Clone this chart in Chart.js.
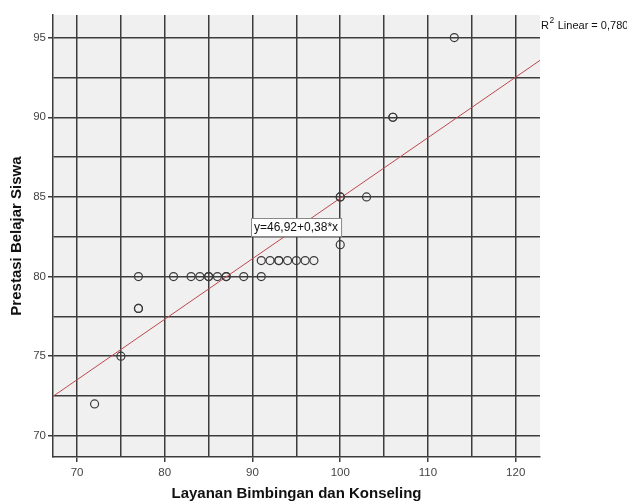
<!DOCTYPE html>
<html>
<head>
<meta charset="utf-8">
<script src="https://cdn.jsdelivr.net/npm/chart.js@4/dist/chart.umd.min.js"></script>
<style>
  html, body { margin: 0; padding: 0; background: #fff; }
  #wrap { width: 627px; height: 504px; }
</style>
</head>
<body>
<div id="wrap"><canvas id="chart" width="627" height="504"></canvas></div>
<script>
// Layanan Bimbingan dan Konseling (x) vs Prestasi Belajar Siswa (y)
const layanan  = [72, 75, 77, 77, 77, 81, 83, 84, 85, 85, 86, 87, 87, 89, 91,
                  91, 92, 93, 93, 94, 95, 96, 97, 100, 100, 100, 103, 106, 106, 113];
const prestasi = [72, 75, 80, 78, 78, 80, 80, 80, 80, 80, 80, 80, 80, 80, 80,
                  81, 81, 81, 81, 81, 81, 81, 81, 82, 85, 85, 85, 90, 90, 95];

// fit line reported by SPSS
const intercept = 46.92;
const slope = 0.38;
const rSquared = "0,780";

const xMin = 67.26, xMax = 122.77;
const yMin = 68.67, yMax = 96.42;
const xTicks = [70, 75, 80, 85, 90, 95, 100, 105, 110, 115, 120];
const yTicks = [70, 72.5, 75, 77.5, 80, 82.5, 85, 87.5, 90, 92.5, 95];

const points = layanan.map((x, i) => ({ x: x, y: prestasi[i] }));
const fitLine = [xMin, xMax].map(x => ({ x: x, y: intercept + slope * x }));

const gridColor = "#3c3c3c";
const fontFamily = "Arial, 'Liberation Sans', sans-serif";

// grey plot background plus the two SPSS labels
const spssPlugin = {
  id: "spss",
  beforeDraw(chart) {
    const { ctx, chartArea: a } = chart;
    ctx.save();
    ctx.fillStyle = "#f0f0f0";
    ctx.fillRect(a.left, a.top, a.right - a.left, a.bottom - a.top);
    ctx.restore();
  },
  afterDraw(chart) {
    const { ctx, chartArea: a } = chart;
    ctx.save();
    // R2 label
    ctx.fillStyle = "#111";
    ctx.textBaseline = "middle";
    ctx.font = "11px " + fontFamily;
    ctx.fillText("R", a.right + 1, 26);
    let w = ctx.measureText("R").width;
    ctx.font = "8.5px " + fontFamily;
    ctx.fillText("2", a.right + 1.5 + w, 21);
    w += ctx.measureText("2").width + 1;
    ctx.font = "11px " + fontFamily;
    ctx.fillText(" Linear = " + rSquared, a.right + 1 + w, 26);

    // equation box
    const label = "y=" + String(intercept).replace(".", ",") + "+" +
                  String(slope).replace(".", ",") + "*x";
    ctx.font = "12px " + fontFamily;
    const tw = ctx.measureText(label).width;
    const bx = 251, by = 218, bw = tw + 6, bh = 18;
    ctx.fillStyle = "#fff";
    ctx.fillRect(bx, by, bw, bh);
    ctx.strokeStyle = "#888";
    ctx.lineWidth = 1;
    ctx.strokeRect(bx + 0.5, by + 0.5, bw, bh);
    ctx.fillStyle = "#111";
    ctx.fillText(label, bx + 3, by + bh / 2 + 1);
    ctx.restore();
  }
};

new Chart(document.getElementById("chart"), {
  type: "scatter",
  data: {
    datasets: [
      {
        type: "line",
        label: "Linear",
        data: fitLine,
        borderColor: "#c0484a",
        borderWidth: 1,
        pointRadius: 0,
        fill: false,
        order: 2
      },
      {
        label: "Data",
        data: points,
        pointStyle: "circle",
        pointRadius: 4,
        pointBorderWidth: 1.2,
        pointBorderColor: "#3a3a3a",
        pointBackgroundColor: "transparent",
        order: 1
      }
    ]
  },
  options: {
    responsive: false,
    animation: false,
    layout: { padding: { top: 15, right: 87, left: 0, bottom: 0 } },
    plugins: {
      legend: { display: false },
      tooltip: { enabled: false }
    },
    scales: {
      x: {
        type: "linear",
        min: xMin,
        max: xMax,
        afterBuildTicks: scale => { scale.ticks = xTicks.map(v => ({ value: v })); },
        afterFit: scale => { scale.height = 47; },
        grid: {
          color: gridColor,
          lineWidth: 1.5,
          tickLength: 5,
          tickColor: c => (c.tick && c.tick.value % 10 === 0) ? gridColor : "transparent"
        },
        border: { color: gridColor, width: 1.5 },
        ticks: {
          autoSkip: false,
          maxRotation: 0,
          padding: 4,
          color: "#444",
          font: { family: fontFamily, size: 11.5 },
          callback: v => (v % 10 === 0 ? v : "")
        },
        title: {
          display: true,
          text: "Layanan Bimbingan dan Konseling",
          color: "#111",
          font: { family: fontFamily, size: 15, weight: "bold" },
          padding: { top: 0, bottom: 1 }
        }
      },
      y: {
        type: "linear",
        min: yMin,
        max: yMax,
        afterBuildTicks: scale => { scale.ticks = yTicks.map(v => ({ value: v })); },
        afterFit: scale => { scale.width = 53; },
        grid: {
          color: gridColor,
          lineWidth: 1.5,
          tickLength: 5,
          tickColor: c => (c.tick && c.tick.value % 5 === 0) ? gridColor : "transparent"
        },
        border: { color: gridColor, width: 1.5 },
        ticks: {
          autoSkip: false,
          padding: 2,
          color: "#444",
          font: { family: fontFamily, size: 11.5 },
          callback: v => (v % 5 === 0 ? v : "")
        },
        title: {
          display: true,
          text: "Prestasi Belajar Siswa",
          color: "#111",
          font: { family: fontFamily, size: 15, weight: "bold" },
          padding: { top: 8, bottom: 0 }
        }
      }
    }
  },
  plugins: [spssPlugin]
});
</script>
</body>
</html>
